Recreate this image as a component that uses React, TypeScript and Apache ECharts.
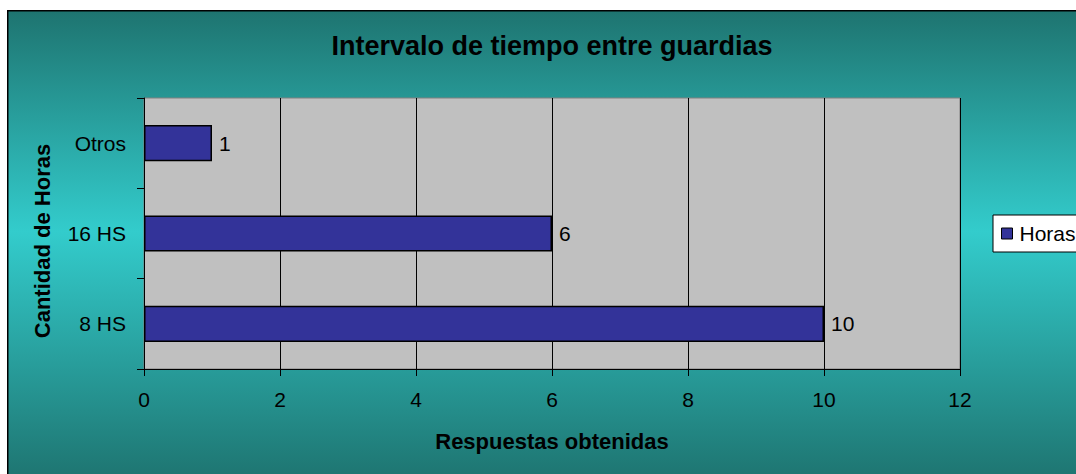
import React, { useEffect, useRef } from "react";
import * as echarts from "echarts";

const categories = ["8 HS", "16 HS", "Otros"];
const values = [10, 6, 1];
const xTicks = { min: 0, max: 12, interval: 2 };
const seriesName = "Horas";
const titleText = "Intervalo de tiempo entre guardias";
const xName = "Respuestas obtenidas";
const yName = "Cantidad de Horas";

const FONT = 'Arial, "Liberation Sans", sans-serif';

export default function App() {
  const ref = useRef<HTMLDivElement>(null);
  useEffect(() => {
    document.body.style.overflow = "hidden";
    const chart = echarts.init(ref.current!, null, { renderer: "svg" });
    chart.setOption({
      animation: false,
      textStyle: { fontFamily: FONT },
      legend: {
        left: 986,
        top: 205,
        orient: "vertical",
        padding: [8, 12, 8, 8],
        backgroundColor: "#ffffff",
        borderColor: "#000",
        borderWidth: 1,
        itemWidth: 11,
        itemHeight: 11,
        icon: "rect",
        itemStyle: { borderColor: "#000", borderWidth: 1 },
        textStyle: { fontFamily: FONT, fontSize: 21, color: "#000", padding: [0, 0, 0, 2] },
        data: [seriesName],
      },
      graphic: [
        {
          type: "rect",
          z: -100,
          silent: true,
          shape: { x: 0.75, y: 0.75, width: 1200, height: 470 },
          style: {
            fill: new echarts.graphic.LinearGradient(0, 0, 0, 1, [
              { offset: 0, color: "#1e7470" },
              { offset: 0.47, color: "#33cccc" },
              { offset: 1, color: "#1e7470" },
            ]),
            stroke: "#000",
            lineWidth: 1.5,
          },
        },
        {
          type: "text",
          x: 545,
          y: 36,
          style: {
            text: titleText,
            fontFamily: FONT,
            fontSize: 27,
            fontWeight: "bold",
            fill: "#000",
            align: "center",
            verticalAlign: "middle",
          },
        },
        {
          type: "text",
          x: 35,
          y: 231,
          rotation: Math.PI / 2,
          style: {
            text: yName,
            fontFamily: FONT,
            fontSize: 22,
            fontWeight: "bold",
            fill: "#000",
            align: "center",
            verticalAlign: "middle",
          },
        },
        {
          type: "text",
          x: 545,
          y: 431,
          style: {
            text: xName,
            fontFamily: FONT,
            fontSize: 22,
            fontWeight: "bold",
            fill: "#000",
            align: "center",
            verticalAlign: "middle",
          },
        },
      ],
      grid: {
        left: 137,
        top: 88,
        width: 816,
        height: 271,
        show: true,
        backgroundColor: "#c0c0c0",
        borderColor: "#808080",
        borderWidth: 1,
      },
      xAxis: {
        type: "value",
        min: xTicks.min,
        max: xTicks.max,
        interval: xTicks.interval,
        axisLine: { show: true, lineStyle: { color: "#000", width: 1 } },
        axisTick: { show: true, length: 7, lineStyle: { color: "#000" } },
        axisLabel: { fontFamily: FONT, fontSize: 21, color: "#000", margin: 20 },
        splitLine: { show: true, lineStyle: { color: "#000", width: 1 } },
      },
      yAxis: {
        type: "category",
        data: categories,
        axisLine: { show: true, lineStyle: { color: "#000", width: 1 } },
        axisTick: { show: true, length: 7, lineStyle: { color: "#000" } },
        axisLabel: { fontFamily: FONT, fontSize: 21, color: "#000", margin: 18 },
        splitLine: { show: false },
      },
      series: [
        {
          name: seriesName,
          type: "bar",
          data: values,
          barWidth: "40%",
          itemStyle: { color: "#333399", borderColor: "#000", borderWidth: 1.5 },
          label: {
            show: true,
            position: "right",
            distance: 7,
            fontFamily: FONT,
            fontSize: 21,
            color: "#000",
          },
        },
      ],
    });
    return () => chart.dispose();
  }, []);
  return (
    <div
      ref={ref}
      style={{ position: "absolute", left: 7, top: 10, width: 1069, height: 464 }}
    />
  );
}
